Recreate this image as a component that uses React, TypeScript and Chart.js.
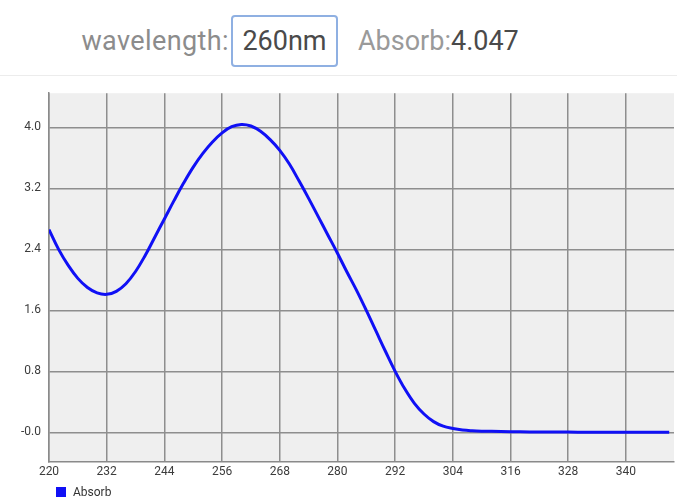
import React, { useEffect, useRef } from "react";
import { Chart, registerables } from "chart.js";

Chart.register(...registerables);

const wavelengths = [
  220, 222, 224, 226, 228, 230, 232, 234, 236, 238, 240, 242, 244, 246, 248, 250,
  252, 254, 256, 258, 260, 262, 264, 266, 268, 270, 272, 274, 276, 278, 280, 282,
  284, 286, 288, 290, 292, 294, 296, 298, 300, 302, 304, 306, 308, 310, 314, 318,
  322, 326, 330, 334, 338, 342, 346, 349,
];
const absorb = [
  2.66, 2.4, 2.19, 2.02, 1.9, 1.83, 1.81, 1.85, 1.95, 2.11, 2.32, 2.56, 2.8, 3.04, 3.27, 3.48,
  3.66, 3.81, 3.93, 4.01, 4.04, 4.02, 3.95, 3.84, 3.7, 3.52, 3.3, 3.07, 2.83, 2.59, 2.35, 2.1,
  1.86, 1.6, 1.33, 1.06, 0.8, 0.57, 0.38, 0.24, 0.14, 0.08, 0.05, 0.03, 0.02, 0.015, 0.01, 0.006,
  0.004, 0.003, 0.002, 0.002, 0.001, 0.001, 0.001, 0.001,
];
const xTicks = [220, 232, 244, 256, 268, 280, 292, 304, 316, 328, 340];
const xTickLabels = ["220", "232", "244", "256", "268", "280", "292", "304", "316", "328", "340"];
const yTicks = [0, 0.8, 1.6, 2.4, 3.2, 4.0];
const yTickLabels = ["-0.0", "0.8", "1.6", "2.4", "3.2", "4.0"];
const seriesName = "Absorb";
const headerWavelength = "260nm";
const headerAbsorb = "4.047";

const FONT = "Roboto, 'Noto Sans', sans-serif";

export default function App() {
  const ref = useRef<HTMLCanvasElement | null>(null);

  useEffect(() => {
    if (!ref.current) return;
    const bgPlugin = {
      id: "plotBg",
      beforeDraw(chart: any) {
        const { ctx, chartArea } = chart;
        if (!chartArea) return;
        ctx.save();
        ctx.fillStyle = "#efefef";
        ctx.fillRect(chartArea.left, chartArea.top, chartArea.right - chartArea.left, chartArea.bottom - chartArea.top);
        ctx.restore();
      },
    };
    const chart = new Chart(ref.current, {
      type: "line",
      data: {
        datasets: [
          {
            label: seriesName,
            data: wavelengths.map((w, i) => ({ x: w, y: absorb[i] })),
            borderColor: "#1010f5",
            backgroundColor: "#1010f5",
            borderWidth: 3,
            pointRadius: 0,
            tension: 0.4,
            fill: false,
          },
        ],
      },
      options: {
        animation: false,
        responsive: false,
        layout: { padding: { top: 12, right: 3, bottom: 10, left: 0 } },
        plugins: {
          legend: { display: false },
          tooltip: { enabled: false },
        },
        scales: {
          x: {
            type: "linear",
            min: 220,
            max: 350,
            afterBuildTicks: (scale: any) => {
              scale.ticks = xTicks.map((v) => ({ value: v }));
            },
            afterFit: (scale: any) => {
              scale.height = 30;
            },
            ticks: {
              autoSkip: false,
              maxRotation: 0,
              padding: 3,
              color: "#3c3c3c",
              font: { family: FONT, size: 12 },
              callback: (_v: any, i: number) => xTickLabels[i],
            },
            grid: { color: "#8e8e8e", lineWidth: 1.5, drawTicks: false },
            border: { display: true, color: "#8a8a8a", width: 1.5 },
          },
          y: {
            min: -0.39,
            max: 4.45,
            afterBuildTicks: (scale: any) => {
              scale.ticks = yTicks.map((v) => ({ value: v }));
            },
            afterFit: (scale: any) => {
              scale.width = 49;
            },
            ticks: {
              padding: 8,
              color: "#3c3c3c",
              font: { family: FONT, size: 12 },
              callback: (_v: any, i: number) => yTickLabels[i],
            },
            grid: { color: "#8e8e8e", lineWidth: 1.5, drawTicks: false },
            border: { display: true, color: "#8a8a8a", width: 1.5 },
          },
        },
      },
      plugins: [bgPlugin],
    } as any);
    return () => chart.destroy();
  }, []);

  return (
    <div style={{ position: "absolute", left: 0, top: 0, width: 677, height: 502, background: "#fff", fontFamily: FONT, overflow: "hidden" }}>
      <div style={{ position: "absolute", right: 677 - 229, top: 25, fontSize: 27, lineHeight: "32px", color: "#8c8c8c", whiteSpace: "nowrap", letterSpacing: 0.4 }}>wavelength:</div>
      <div
        style={{
          position: "absolute",
          left: 231,
          top: 15,
          width: 103,
          height: 48,
          border: "2px solid #8fb0e2",
          borderRadius: 4,
          fontSize: 27,
          lineHeight: "48px",
          textAlign: "center",
          color: "#4a4a4a",
        }}
      >
        {headerWavelength}
      </div>
      <div style={{ position: "absolute", left: 358, top: 25, fontSize: 27, lineHeight: "32px", whiteSpace: "nowrap" }}>
        <span style={{ color: "#9a9a9a" }}>Absorb:</span>
        <span style={{ color: "#4a4a4a" }}>{headerAbsorb}</span>
      </div>
      <div style={{ position: "absolute", left: 0, top: 75, width: 677, height: 1, background: "#ececec" }} />
      <canvas ref={ref} width={677} height={424} style={{ position: "absolute", left: 0, top: 78, width: 677, height: 424 }} />
      <div style={{ position: "absolute", left: 56, top: 487, width: 10, height: 10, background: "#1010f5" }} />
      <div style={{ position: "absolute", left: 73, top: 484, fontSize: 12, lineHeight: "16px", color: "#333", whiteSpace: "nowrap" }}>{seriesName}</div>
    </div>
  );
}
